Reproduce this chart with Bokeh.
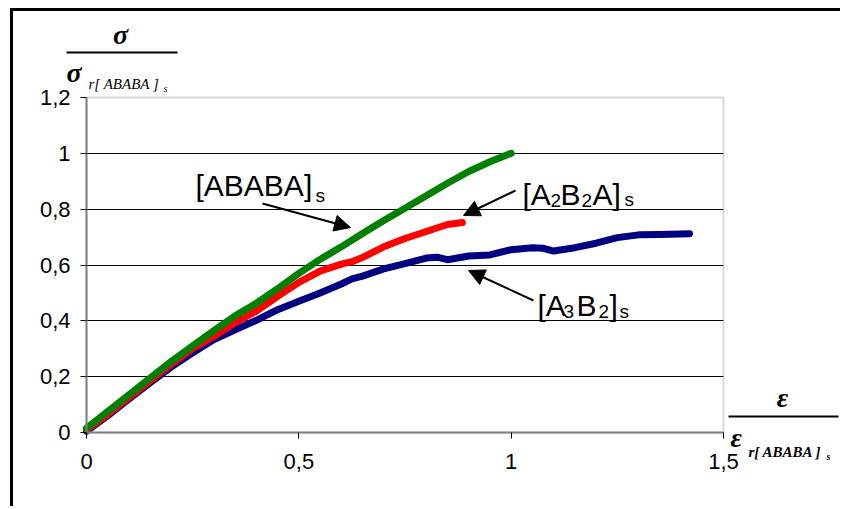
from bokeh.plotting import figure
from bokeh.models import (FixedTicker, CustomJSTickFormatter, Label, Arrow, NormalHead,
                          BoxAnnotation, Range1d, Grid)
from bokeh.embed import file_html
from bokeh.resources import INLINE

# ---------------- data ----------------
x_ababa = [0.0, 0.05, 0.10, 0.15, 0.20, 0.25, 0.30, 0.35, 0.40, 0.45, 0.50, 0.55,
           0.60, 0.65, 0.70, 0.75, 0.80, 0.85, 0.90, 0.95, 1.00]
y_ababa = [0.015, 0.075, 0.135, 0.195, 0.255, 0.31, 0.365, 0.418, 0.463, 0.515, 0.57, 0.62,
           0.665, 0.713, 0.759, 0.803, 0.848, 0.893, 0.935, 0.97, 1.0]

x_a2b2a = [0.0, 0.05, 0.10, 0.15, 0.20, 0.25, 0.30, 0.35, 0.40, 0.45, 0.50, 0.55,
           0.60, 0.625, 0.65, 0.70, 0.75, 0.80, 0.85, 0.885]
y_a2b2a = [0.01, 0.065, 0.125, 0.185, 0.245, 0.30, 0.345, 0.393, 0.435, 0.488, 0.538, 0.578,
           0.603, 0.612, 0.627, 0.665, 0.695, 0.72, 0.745, 0.752]

x_a3b2 = [0.0, 0.05, 0.10, 0.15, 0.20, 0.25, 0.30, 0.35, 0.40, 0.45, 0.50, 0.55, 0.60,
          0.625, 0.65, 0.70, 0.75, 0.80, 0.825, 0.85, 0.90, 0.95, 1.00, 1.05, 1.075,
          1.10, 1.15, 1.20, 1.25, 1.30, 1.35, 1.42]
y_a3b2 = [0.005, 0.06, 0.12, 0.178, 0.235, 0.285, 0.333, 0.368, 0.402, 0.44, 0.47, 0.50, 0.532,
          0.55, 0.56, 0.586, 0.605, 0.625, 0.628, 0.619, 0.632, 0.636, 0.655, 0.662, 0.660,
          0.650, 0.662, 0.678, 0.698, 0.708, 0.709, 0.712]

y_ticks = [0, 0.2, 0.4, 0.6, 0.8, 1.0, 1.2]
y_grid = [0.2, 0.4, 0.6, 0.8, 1.0]
x_ticks = [0, 0.5, 1.0, 1.5]

# ---------------- layout helpers ----------------
CANVAS_L, CANVAS_T = 13, 11            # canvas origin on the page
W, H = 830, 498
FL, FR, FT, FB = 86, 723, 97, 432      # plot-area edges in page pixels
X0, X1, Y0, Y1 = 0.0, 1.5, 0.0, 1.2


def dx(px):
    return X0 + (px - FL) * (X1 - X0) / (FR - FL)


def dy(py):
    return Y0 + (FB - py) * (Y1 - Y0) / (FB - FT)


p = figure(width=W, height=H,
           x_range=Range1d(dx(CANVAS_L), dx(CANVAS_L + W)),
           y_range=Range1d(dy(CANVAS_T + H), dy(CANVAS_T)),
           output_backend="svg", toolbar_location=None,
           min_border_left=0, min_border_right=0, min_border_top=0, min_border_bottom=0)
p.styles = {"border-left": "3px solid black", "border-top": "3px solid black",
            "margin-left": "10px", "margin-top": "8px"}
p.background_fill_color = "white"
p.border_fill_color = "white"
p.outline_line_color = None

fmt = CustomJSTickFormatter(code="return String(Math.round(tick*10)/10).replace('.', ',');")

for ax in (p.xaxis[0], p.yaxis[0]):
    ax.formatter = fmt
    ax.fixed_location = 0
    ax.axis_line_color = "#808080"
    ax.axis_line_width = 2
    ax.major_tick_line_color = "black"
    ax.major_tick_in = 0
    ax.major_tick_out = 6
    ax.minor_tick_line_color = None
    ax.major_label_text_font = "Liberation Sans"
    ax.major_label_text_font_size = "22px"
    ax.major_label_text_color = "black"

p.xaxis[0].ticker = FixedTicker(ticks=x_ticks)
p.yaxis[0].ticker = FixedTicker(ticks=y_ticks)
p.xaxis[0].bounds = (X0, X1)
p.yaxis[0].bounds = (Y0, Y1)
p.xaxis[0].major_label_standoff = 15
p.yaxis[0].major_label_standoff = 10

p.xgrid.visible = False
if "cross_bounds" in Grid.properties():
    p.ygrid[0].ticker = FixedTicker(ticks=y_grid)
    p.ygrid[0].cross_bounds = (X0, X1)
    p.ygrid[0].grid_line_color = "black"
    p.ygrid[0].grid_line_width = 1
else:
    p.ygrid.visible = False
    p.segment(x0=[X0] * len(y_grid), y0=y_grid, x1=[X1] * len(y_grid), y1=y_grid,
              line_color="black", line_width=1, level="underlay")

# plot-area border (grey, as in Excel)
p.add_layout(BoxAnnotation(left=X0, right=X1, bottom=Y0, top=Y1, fill_color=None,
                           line_color="#808080", line_width=2, level="underlay"))

# ---------------- curves ----------------
p.line(x_a3b2, y_a3b2, line_color="#000080", line_width=7, line_cap="round", line_join="round")
p.line(x_a2b2a, y_a2b2a, line_color="#FF0000", line_width=7, line_cap="round", line_join="round")
p.line(x_ababa, y_ababa, line_color="#008000", line_width=7, line_cap="round", line_join="round")

# ---------------- annotations ----------------
BASE_SHIFT = 0.27   # empirical: Bokeh draws "alphabetic" text about this * size lower


def lab(text, px, py, size, font="Liberation Sans", style="normal", align="left"):
    p.add_layout(Label(x=dx(px), y=dy(py - BASE_SHIFT * size), text=text, text_font=font,
                       text_font_size=f"{size}px", text_font_style=style,
                       text_color="black", text_align=align, text_baseline="alphabetic"))


def arrow(px0, py0, px1, py1):
    p.add_layout(Arrow(x_start=dx(px0), y_start=dy(py0), x_end=dx(px1), y_end=dy(py1),
                       line_color="black", line_width=2,
                       end=NormalHead(size=16, fill_color="black", line_color="black")))


def hline(px0, px1, py):
    p.add_layout(Arrow(x_start=dx(px0), y_start=dy(py), x_end=dx(px1), y_end=dy(py),
                       line_color="black", line_width=2, end=None))


# [ABABA]s
lab("[ABABA]", 195, 193, 30)
lab("s", 315, 200, 19)
arrow(262, 203, 350, 227)

# [A2B2A]s
lab("[A", 522, 202, 30)
lab("2", 550, 205, 19)
lab("B", 560, 202, 30)
lab("2", 581, 205, 19)
lab("A]", 592, 202, 30)
lab("s", 624, 204, 19)
arrow(515, 190, 463, 215)

# [A3B2]s
lab("[A", 537, 313, 30)
lab("3", 563, 316, 19)
lab("B", 576, 313, 30)
lab("2", 598, 316, 19)
lab("]", 609, 313, 30)
lab("s", 619, 316, 19)
arrow(533, 300, 468, 270)

# y axis fraction label  sigma / sigma_r[ABABA]s
lab("\u03c3", 120, 42, 28, font="Liberation Serif", style="bold italic", align="center")
hline(66, 177, 52)
lab("\u03c3", 66, 80, 28, font="Liberation Serif", style="bold italic")
lab("r[ ABABA ]", 88, 88, 15, font="Liberation Serif", style="italic")
lab("s", 163, 91, 10, font="Liberation Serif", style="italic")

# x axis fraction label  epsilon / epsilon_r[ABABA]s
lab("\u03b5", 782, 405, 28, font="Liberation Serif", style="bold italic", align="center")
hline(728, 838, 416)
lab("\u03b5", 730, 445, 28, font="Liberation Serif", style="bold italic")
lab("r[ ABABA ]", 748, 456, 15, font="Liberation Serif", style="bold italic")
lab("s", 826, 459, 10, font="Liberation Serif", style="bold italic")

open("out.html", "w").write(file_html(p, INLINE))
